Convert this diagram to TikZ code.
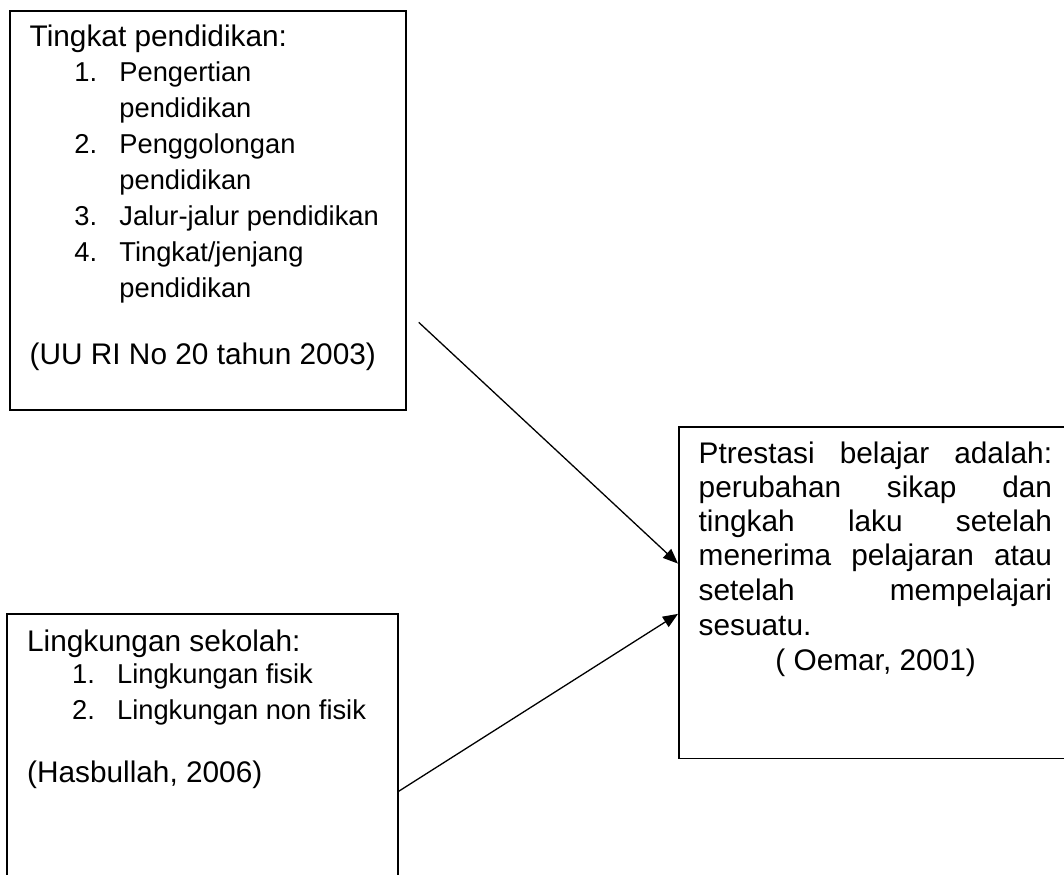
\documentclass[tikz,border=0pt]{standalone}
\usepackage{fontspec}
\setmainfont{Liberation Sans}
\usetikzlibrary{arrows.meta,calc}
\newcommand\fh{\fontsize{14.9}{17}\selectfont}
\newcommand\fl{\fontsize{13.65}{16}\selectfont}
\newcommand\jl[1]{\makebox[176.7pt][s]{#1}}
\begin{document}
\begin{tikzpicture}[x=0.5pt,y=-0.5pt,
  box/.style={draw, line width=0.8pt, rectangle, inner sep=0pt, anchor=north west},
  txt/.style={inner sep=0pt, anchor=base west, font=\fh},
  itm/.style={inner sep=0pt, anchor=base west, font=\fl},
  conn/.style={line width=0.65pt, -{Triangle[length=7.5pt,width=6pt]}}]
\path[use as bounding box, clip] (0,0) rectangle (1064,874);

% boxes
\node[box, minimum width=198pt, minimum height=199.5pt] (tp) at (9,10) {};
\node[box, minimum width=195.5pt, minimum height=143.5pt] (ls) at (6,613) {};
\node[box, minimum width=206pt, minimum height=165.75pt] (pb) at (678,426) {};

% top-left box text
\node[txt] (tp0) at (29.3,46.7) {Tingkat pendidikan:};
\node[itm] (tpn1) at (74,81) {1.};
\node[itm] (tpi1) at (119,81) {Pengertian};
\node[itm] (tpi1b) at (119,117) {pendidikan};
\node[itm] (tpn2) at (74,153) {2.};
\node[itm] (tpi2) at (119,153) {Penggolongan};
\node[itm] (tpi2b) at (119,189) {pendidikan};
\node[itm] (tpn3) at (74,225.7) {3.};
\node[itm] (tpi3) at (119,225.7) {Jalur-jalur pendidikan};
\node[itm] (tpn4) at (74,261.7) {4.};
\node[itm] (tpi4) at (119,261.7) {Tingkat/jenjang};
\node[itm] (tpi4b) at (119,297.7) {pendidikan};
\node[txt] (tpref) at (29.3,364.3) {(UU RI No 20 tahun 2003)};

% bottom-left box text
\node[txt] (ls0) at (26.7,651.7) {Lingkungan sekolah:};
\node[itm] (lsn1) at (71.7,683.3) {1.};
\node[itm] (lsi1) at (116.7,683.3) {Lingkungan fisik};
\node[itm] (lsn2) at (71.7,719) {2.};
\node[itm] (lsi2) at (116.7,719) {Lingkungan non fisik};
\node[txt] (lsref) at (26.7,782.7) {(Hasbullah, 2006)};

% right box text
\node[txt] (pb1) at (698.3,463.3) {\jl{Ptrestasi belajar adalah:}};
\node[txt] (pb2) at (698.3,497.3) {\jl{perubahan sikap dan}};
\node[txt] (pb3) at (698.3,531.7) {\jl{tingkah laku setelah}};
\node[txt] (pb4) at (698.3,565.7) {\jl{menerima pelajaran atau}};
\node[txt] (pb5) at (698.3,600) {\jl{setelah mempelajari}};
\node[txt] (pb6) at (698.3,635.7) {sesuatu.};
\node[txt] (pbref) at (775,670) {( Oemar, 2001)};

% connectors
\coordinate (a1s) at (418.7,322.3);
\coordinate (a2s) at (398,791.7);
\coordinate (a1e) at ($(pb.north west)!0.413!(pb.south west)$);
\coordinate (a2e) at ($(pb.north west)!0.564!(pb.south west)$);
\draw[conn] (a1s) -- (a1e);
\draw[conn] (a2s) -- (a2e);
\end{tikzpicture}
\end{document}
